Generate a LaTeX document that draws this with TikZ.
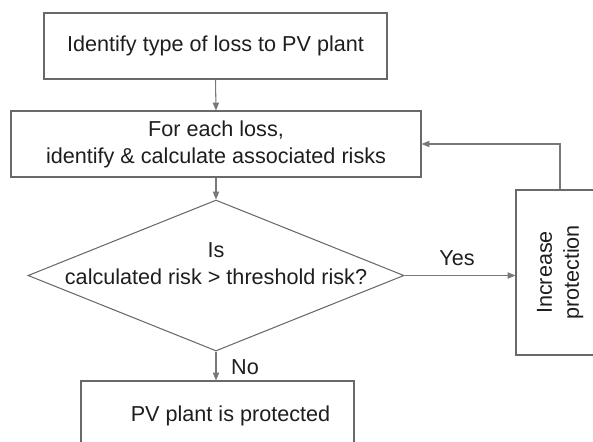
\documentclass[tikz,border=0pt]{standalone}
\usepackage{fontspec}
\setmainfont{Liberation Sans}
\usepackage{graphicx}
\definecolor{boxgray}{RGB}{105,105,105}
\definecolor{linegray}{RGB}{120,120,120}
\definecolor{textdark}{RGB}{30,30,30}
\usepackage{tikz}
\usetikzlibrary{arrows.meta,positioning,shapes.geometric,calc}

\begin{document}
\begin{tikzpicture}[
  stepbox/.style={draw=boxgray, line width=0.6pt, inner sep=0pt, align=center,
    text=textdark, font=\fontsize{12.3}{15.3}\selectfont},
  flow/.style={-{Triangle[length=4.5pt, width=3.6pt]}, linegray, line width=0.6pt},
  answer/.style={text=textdark, font=\fontsize{12.3}{15.3}\selectfont}]

\path[use as bounding box, clip] (0,0) rectangle (11.86,8.82);

\node[stepbox, minimum width=6.86cm, minimum height=1.32cm] (loss) at (4.31,7.90) {Identify type of loss to PV plant};

\node[stepbox, minimum width=8.2cm, minimum height=1.32cm] (risks) at (4.32,5.94) {For each loss,\\identify \& calculate associated risks};

\node[draw=boxgray, line width=0.6pt, diamond, inner sep=0pt,
  minimum width=7.52cm, minimum height=3.02cm] (check) at (4.32,3.31) {};
\node[answer, align=center] (checktxt) at ([yshift=0.23cm]check.center) {Is\\calculated risk > threshold risk?};

\node[stepbox, minimum width=1.76cm, minimum height=3.3cm] (protect) at (11.2,3.37)
  {\rotatebox{90}{\begin{tabular}{@{}c@{}}Increase\\protection\end{tabular}}};

\node[stepbox, minimum width=5.46cm, minimum height=1.4cm] (safe) at (4.35,0.5)
  {\hspace*{0.52cm}PV plant is protected};

\draw[flow] (loss.south) -- (risks.north);
\draw[flow] (risks.south) -- (check.north);
\draw[flow] (check.east) -- (check.east -| protect.west);
\draw[flow] (check.south) -- (check.south |- safe.north);

% Feedback loop
\draw[flow] (protect.north) |- (risks.east);

\node[answer] (yes) at (9.14,3.66) {Yes};
\node[answer] (no) at (4.9,1.48) {No};

\end{tikzpicture}
\end{document}
